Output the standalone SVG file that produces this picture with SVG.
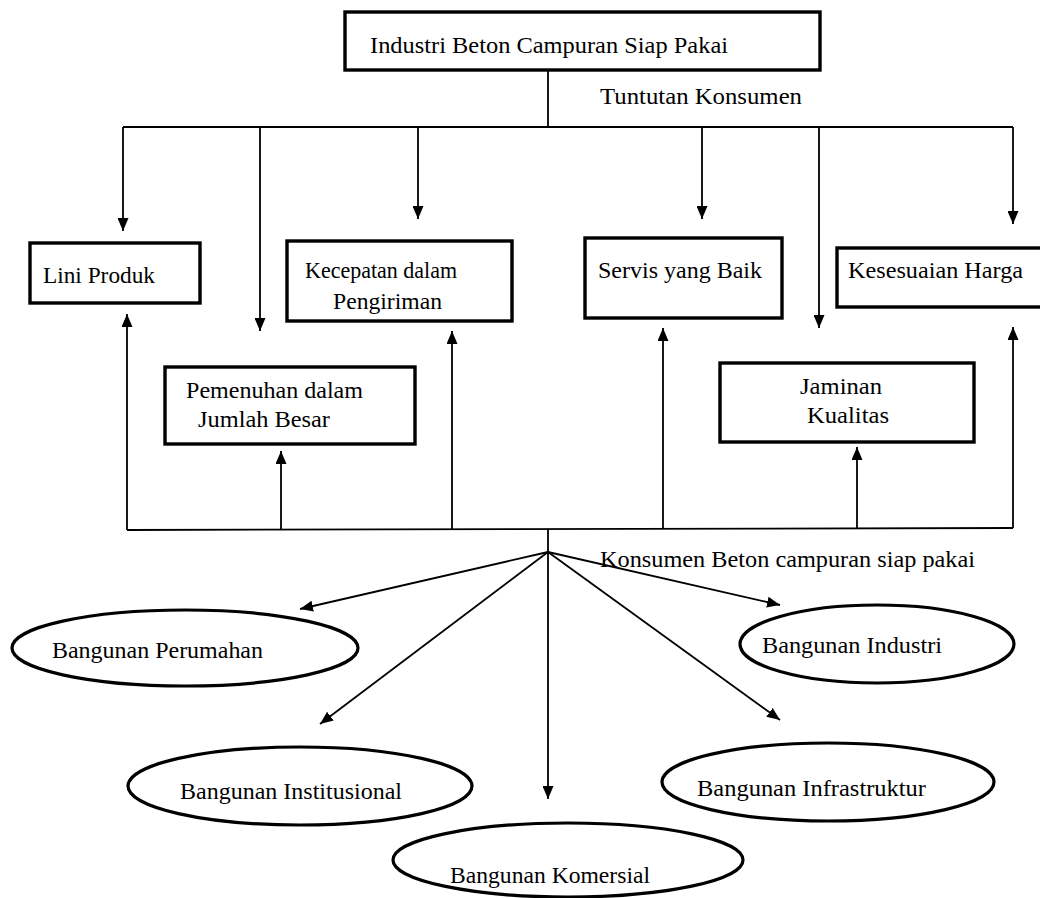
<svg xmlns="http://www.w3.org/2000/svg" width="1040" height="898" viewBox="0 0 1040 898">
<style>
  .box { fill: #fff; stroke: #000; stroke-width: 3.4; }
  .ell { fill: #fff; stroke: #000; stroke-width: 3.2; }
  .ln { fill: none; stroke: #000; stroke-width: 1.8; }
  .arr { fill: none; stroke: #000; stroke-width: 1.8; marker-end: url(#ah); }
  text { font-family: "Liberation Serif", "Times New Roman", serif; font-size: 24px; fill: #000; }
</style>
<defs>
  <marker id="ah" markerUnits="userSpaceOnUse" markerWidth="13" markerHeight="11" refX="13" refY="5.5" orient="auto">
    <path d="M0,0 L13,5.5 L0,11 z" fill="#000"/>
  </marker>
</defs>
<rect width="1040" height="898" fill="#fff"/>

<g id="connectors">
  <line class="ln" x1="548" y1="70" x2="548" y2="127"/>
  <line class="ln" x1="123" y1="127" x2="1013" y2="127"/>
  <line class="arr" x1="123" y1="127" x2="123" y2="231"/>
  <line class="arr" x1="260" y1="127" x2="260" y2="331"/>
  <line class="arr" x1="418" y1="127" x2="418" y2="219"/>
  <line class="arr" x1="702" y1="127" x2="702" y2="219"/>
  <line class="arr" x1="819" y1="127" x2="819" y2="328"/>
  <line class="arr" x1="1013" y1="127" x2="1013" y2="224"/>

  <line class="ln" x1="127" y1="530" x2="1013" y2="528"/>
  <line class="arr" x1="127" y1="530" x2="127" y2="314"/>
  <line class="arr" x1="281" y1="530" x2="281" y2="451"/>
  <line class="arr" x1="452" y1="530" x2="452" y2="331"/>
  <line class="arr" x1="663" y1="529" x2="663" y2="328"/>
  <line class="arr" x1="857" y1="528" x2="857" y2="447"/>
  <line class="arr" x1="1013" y1="528" x2="1013" y2="327"/>

  <line class="ln" x1="548" y1="529" x2="548" y2="552"/>
  <line class="arr" x1="548" y1="552" x2="300" y2="609"/>
  <line class="arr" x1="548" y1="552" x2="320" y2="724"/>
  <line class="arr" x1="548" y1="552" x2="548" y2="799"/>
  <line class="arr" x1="548" y1="552" x2="780" y2="605"/>
  <line class="arr" x1="548" y1="552" x2="780" y2="720"/>
  <text x="600" y="104" textLength="202" lengthAdjust="spacingAndGlyphs">Tuntutan Konsumen</text>
  <text x="600" y="567" textLength="375" lengthAdjust="spacingAndGlyphs">Konsumen Beton campuran siap pakai</text>
</g>

<g id="industri">
  <rect class="box" x="345" y="12" width="475" height="58"/>
  <text x="370" y="53" textLength="358" lengthAdjust="spacingAndGlyphs">Industri Beton Campuran Siap Pakai</text>
</g>

<g id="lini-produk">
  <rect class="box" x="30" y="243" width="170" height="60"/>
  <text x="43" y="283" textLength="112" lengthAdjust="spacingAndGlyphs">Lini Produk</text>
</g>

<g id="kecepatan">
  <rect class="box" x="287" y="241" width="225" height="80"/>
  <text x="305" y="278" textLength="152" lengthAdjust="spacingAndGlyphs">Kecepatan dalam</text>
  <text x="333" y="309" textLength="109" lengthAdjust="spacingAndGlyphs">Pengiriman</text>
</g>

<g id="servis">
  <rect class="box" x="585" y="238" width="197" height="80"/>
  <text x="598" y="278" textLength="164" lengthAdjust="spacingAndGlyphs">Servis yang Baik</text>
</g>

<g id="kesesuaian">
  <rect class="box" x="837" y="248" width="215" height="59"/>
  <text x="848" y="278" textLength="175" lengthAdjust="spacingAndGlyphs">Kesesuaian Harga</text>
</g>

<g id="pemenuhan">
  <rect class="box" x="165" y="367" width="250" height="77"/>
  <text x="186" y="398" textLength="177" lengthAdjust="spacingAndGlyphs">Pemenuhan dalam</text>
  <text x="198" y="427" textLength="132" lengthAdjust="spacingAndGlyphs">Jumlah Besar</text>
</g>

<g id="jaminan">
  <rect class="box" x="720" y="363" width="254" height="79"/>
  <text x="800" y="394" textLength="82" lengthAdjust="spacingAndGlyphs">Jaminan</text>
  <text x="807" y="423" textLength="82" lengthAdjust="spacingAndGlyphs">Kualitas</text>
</g>

<g id="perumahan">
  <ellipse class="ell" cx="185" cy="648" rx="173" ry="38"/>
  <text x="52" y="658" textLength="211" lengthAdjust="spacingAndGlyphs">Bangunan Perumahan</text>
</g>

<g id="institusional">
  <ellipse class="ell" cx="300" cy="786" rx="172" ry="39"/>
  <text x="180" y="799" textLength="222" lengthAdjust="spacingAndGlyphs">Bangunan Institusional</text>
</g>

<g id="komersial">
  <ellipse class="ell" cx="568" cy="860" rx="175" ry="37"/>
  <text x="450" y="883" textLength="200" lengthAdjust="spacingAndGlyphs">Bangunan Komersial</text>
</g>

<g id="industri-bangunan">
  <ellipse class="ell" cx="877" cy="644" rx="137" ry="39"/>
  <text x="762" y="653" textLength="180" lengthAdjust="spacingAndGlyphs">Bangunan Industri</text>
</g>

<g id="infrastruktur">
  <ellipse class="ell" cx="828" cy="782" rx="166" ry="39"/>
  <text x="697" y="796" textLength="229" lengthAdjust="spacingAndGlyphs">Bangunan Infrastruktur</text>
</g>
</svg>
